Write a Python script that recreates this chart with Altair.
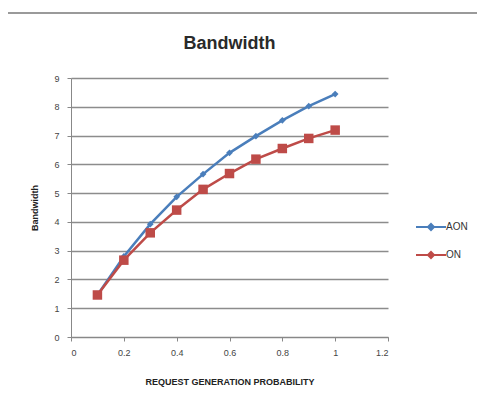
import altair as alt
import pandas as pd

x_vals = [0.1, 0.2, 0.3, 0.4, 0.5, 0.6, 0.7, 0.8, 0.9, 1.0]
aon = [1.46, 2.80, 3.92, 4.87, 5.66, 6.40, 6.98, 7.53, 8.02, 8.44]
on = [1.46, 2.67, 3.62, 4.41, 5.13, 5.68, 6.18, 6.55, 6.90, 7.19]
series = ["AON", "ON"]
colors = ["#4a7ebb", "#be4b48"]
shapes = ["diamond", "square"]
x_ticks = [0, 0.2, 0.4, 0.6, 0.8, 1.0, 1.2]
y_ticks = list(range(0, 10))

rows = []
for xv, a, o in zip(x_vals, aon, on):
    rows.append({"p": xv, "bw": a, "s": "AON", "mk": "AON"})
    rows.append({"p": xv, "bw": o, "s": "ON", "mk": "ON"})
df = pd.DataFrame(rows)

font = "Liberation Sans"

x_enc = alt.X("p:Q", scale=alt.Scale(domain=[0, 1.2], nice=False),
              axis=alt.Axis(values=x_ticks, title="REQUEST GENERATION PROBABILITY",
                            grid=False,
                            labelExpr="datum.value == 0 ? '0' : datum.value == 1 ? '1' : format(datum.value, '.1f')"))
y_enc = alt.Y("bw:Q", scale=alt.Scale(domain=[0, 9], nice=False),
              axis=alt.Axis(values=y_ticks, title="Bandwidth", grid=True, tickCount=10))

legend_symbol = ("M-3,0H3 M-0.6,0L0,-0.6L0.6,0L0,0.6Z "
                 "M-0.35,0L0,-0.35L0.35,0L0,0.35Z M-0.1,0L0,-0.1L0.1,0L0,0.1Z")

color_enc = alt.Color("s:N", scale=alt.Scale(domain=series, range=colors),
                      legend=alt.Legend(title=None, orient="none", legendX=354, legendY=143,
                                        labelFontSize=10, symbolSize=100, rowPadding=14,
                                        symbolType=legend_symbol, symbolStrokeWidth=2,
                                        labelOffset=9))
shape_enc = alt.Shape("mk:N", scale=alt.Scale(domain=series, range=shapes), legend=None)

base = alt.Chart(df).encode(x=x_enc, y=y_enc)

lines = base.mark_line(strokeWidth=2.5).encode(color=color_enc)
points = base.mark_point(filled=True, opacity=1).encode(
    color=alt.Color("mk:N", scale=alt.Scale(domain=series, range=colors), legend=None),
    shape=shape_enc,
    size=alt.condition(alt.datum.s == "AON", alt.value(45), alt.value(90)))

frame = alt.Chart(df).mark_rule(color="#9a9a9a", strokeWidth=2).encode(
    x=alt.value(-63), x2=alt.value(406), y=alt.value(-65))

chart = (frame + lines + points).resolve_scale(color="independent", shape="independent").properties(
    width=317, height=259,
    title=alt.TitleParams("Bandwidth", fontSize=18, font=font, fontWeight="bold", color="#2a2a2a",
                          offset=27, dy=68),
    autosize=alt.AutoSizeParams(type="none"),
    padding={"left": 71, "top": 78, "right": 89, "bottom": 80},
    background="white",
).configure_view(stroke=None).configure_axis(
    labelFont=font, titleFont=font, labelFontSize=9, titleFontSize=9, titleFontWeight="bold",
    labelColor="#444", titleColor="#222", domainColor="#888", tickColor="#888",
    gridColor="#8c8c8c", gridWidth=1.5, tickSize=4,
).configure_axisX(titlePadding=20, labelPadding=7).configure_axisY(titlePadding=14, labelPadding=8).configure_legend(
    labelFont=font, labelColor="#333")

chart.save("out.html", embed_options={"renderer": "svg", "actions": False})
